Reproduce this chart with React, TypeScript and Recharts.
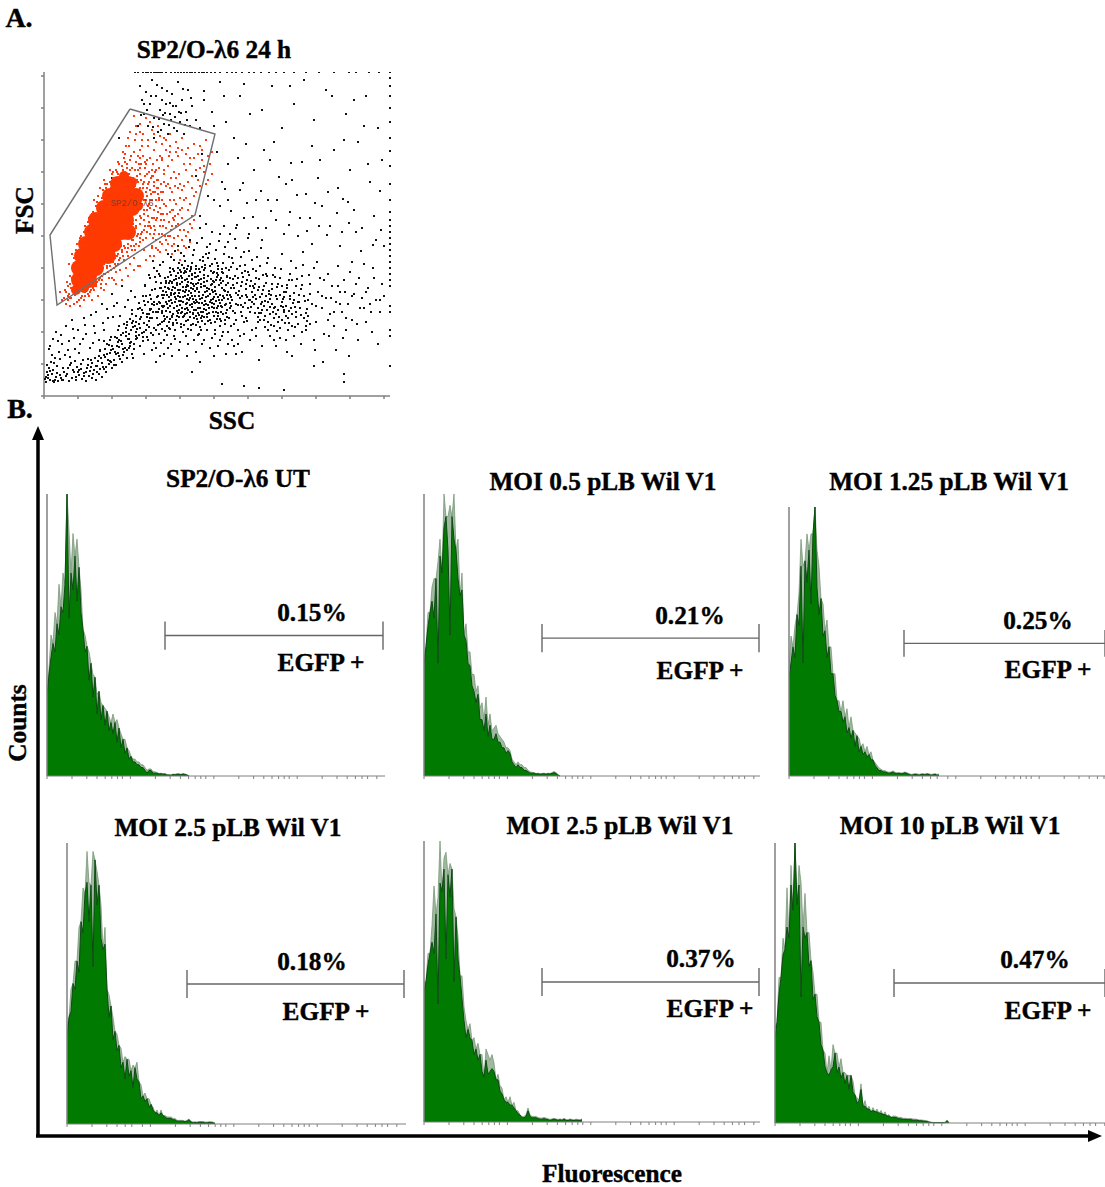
import React from "react";
import { ScatterChart, Scatter, AreaChart, Area, XAxis, YAxis, ReferenceLine } from "recharts";

// ---------- Panel A: SSC / FSC events (pairs: ssc, fsc) ----------
const lowerLeftEvents = [2,14,4,18,3,24,6,16,8,22,5,28,10,14,12,19,9,26,14,15,16,21,13,30,18,16,20,24,7,34,11,38,15,44,19,16,22,20,25,15,24,28,28,18,30,24,27,33,32,16,35,21,33,29,38,17,40,23,37,32,42,15,45,20,43,28,48,18,50,26,47,36,52,16,55,22,53,30,58,19,60,27,57,38,62,24,65,32,63,42,68,28,70,36,67,46,72,31,75,40,73,50,78,34,80,44,77,55,83,38,85,48,82,60,88,42,90,52,87,66,18,52,12,64,6,50,24,46,30,58,22,70,36,52,28,76,34,66,42,62,40,78,46,48,50,70,55,56,52,84,60,66,58,92,64,78,66,56,70,90,74,66,68,102,76,80,80,72,84,96,88,82,78,110,92,60,95,72,96,50,100,64,98,86,104,56,106,78,102,100,110,68,108,92,112,48,115,62,114,84,118,74,120,56,122,94,125,68,124,108,128,80,130,60,
1,17,3,31,8,41,5,47,10,33,16,37,14,55,21,41,9,57,26,39,31,47,17,61,25,55,35,43,29,67,39,57,44,37,49,53,41,71,56,45,61,39,51,63,47,81,59,73,65,51,71,59,63,87,75,49,79,63,69,79,83,71,73,93,85,57,89,75,81,89,93,67,97,79,91,99,99,59,103,71,95,93,87,105,107,87,101,111,109,61,113,99,117,53,119,89,111,119,123,79,121,65,127,101,129,73,126,115,133,85,131,57,135,95,137,69,
4,21,11,16,6,25,17,18,2,19,23,22,9,15,29,26,13,23,34,24,19,28,40,20,26,31,46,25,37,27,31,35,44,31,53,24,39,36,59,29,48,33,66,35,55,40,72,42,61,47,79,47,68,50,86,53,75,56,92,57,82,64,98,63,89,69];

const denseEvents = [106,86,108,78,110,94,112,84,114,100,116,72,118,90,120,80,122,104,124,88,125,74,127,96,129,82,130,102,132,76,133,90,135,86,136,106,137,72,139,94,140,80,141,100,143,88,144,76,145,96,146,84,147,108,148,92,149,72,150,86,151,100,152,80,153,94,154,74,155,104,156,88,157,78,158,98,159,84,160,110,161,72,162,92,163,82,164,100,165,88,166,76,167,96,168,106,169,84,170,92,171,74,172,102,173,88,174,80,175,96,176,70,177,90,178,108,179,82,180,98,181,76,182,92,183,86,184,104,185,78,113,92,119,98,126,84,131,94,134,100,138,84,142,92,146,98,150,78,154,88,158,80,162,86,166,94,170,80,174,90,178,96,128,106,136,112,144,114,152,112,160,114,168,112,176,116,123,70,131,66,139,64,147,66,155,62,163,66,171,62,179,64,187,70,
141,87,137,95,149,83,144,101,153,77,139,79,156,97,147,71,160,91,134,83,151,105,165,83,142,109,158,75,128,93,169,97,148,89,135,103,163,105,174,83,122,85,146,79,155,93,131,99,167,73,152,71,178,89,125,95,143,97,161,95,139,105,182,83,149,97,172,95,116,93,157,109,133,73,164,75,145,105,186,93,120,75,154,83,176,101,129,109,168,89,140,71,181,105,159,101,136,91,173,77,147,113,126,77,189,85,156,69,143,83,165,107,118,83,151,93,133,111,171,105,160,79,123,101,177,75,142,75,184,97,149,107,
155,81,138,88,162,99,130,88,146,91,170,88,127,103,152,86,141,104,176,93,135,79,166,102,158,93,148,100,183,79,123,92,144,86,172,84,132,97,160,87,152,96,139,99,179,100,115,87,163,79,149,82,134,106,187,90,155,100,128,79,168,93,143,93,174,99,120,90,157,84,137,83,181,91,147,103,164,91,126,90,153,108,141,82,170,99,161,104,133,80,177,84,150,94];

const bandEvents = [92,74,96,88,99,100,101,110,104,94,106,118,108,106,110,128,112,114,115,122,117,108,119,134,121,118,124,142,126,124,128,114,130,136,132,120,134,150,136,126,138,118,140,140,142,124,144,130,146,156,148,122,150,146,152,130,154,120,156,136,158,158,160,126,162,142,164,120,166,152,168,132,170,124,172,146,174,130,176,162,178,124,180,142,182,128,184,154,186,118,188,138,190,108,192,148,194,118,196,130,198,100,200,144,202,112,204,124,206,96,208,136,210,108,212,118,214,88,216,130,218,102,220,76,222,122,224,94,226,82,228,112,230,70,232,100,234,86,236,118,238,76,240,104,242,90,244,66,246,122,248,82,250,96,252,110,254,72,256,88,258,120,260,100,262,66,264,80,266,112,268,92,270,128,272,74,274,104,276,118,278,88,280,62,282,98,284,122,286,82,288,110,290,70,292,94,294,130,296,104,298,84,300,116,302,66,304,92,306,124,308,76,310,102,312,112,314,56,316,88,318,98,320,132,322,74,324,108,326,92,328,64,330,118,332,96,334,52,336,84,338,112,340,100,
178,60,184,64,190,72,196,60,202,78,208,66,214,74,220,90,226,60,232,82,238,94,244,78,250,60,186,88,192,92,198,80,204,88,210,92,216,76,222,100,228,92,234,74,240,84,246,100,252,84,258,64,264,96,270,56,142,60,150,56,158,52,166,48,174,50,182,42,190,50,198,44,215,36,232,50,248,40,270,30,300,22,127,52,135,46,143,40,156,34,170,40,148,24,178,12,200,10,215,8,240,6,300,14,305,40,320,88,
103,79,107,97,111,107,105,121,113,125,118,101,122,113,109,135,116,131,125,107,129,127,133,113,127,139,135,133,139,109,131,145,137,143,143,117,141,135,147,127,145,149,151,119,149,141,155,127,153,153,157,117,159,139,161,131,163,149,167,125,165,143,169,115,171,137,173,123,175,155,177,113,179,133,181,149,183,119,185,139,187,129,189,111,191,157,193,127,195,105,197,139,199,119,201,131,203,99,205,145,207,115,209,127,211,101,213,139,215,109,217,83,219,121,221,95,223,133,225,105,227,71,229,121,231,89,233,109,235,79,237,127,239,97,241,73,243,111,245,85,247,135,249,93,251,69,253,117,255,101,257,81,259,131,261,95,263,75,265,121,
191,83,197,91,203,75,209,99,215,83,221,69,227,101,233,65,239,89,245,73,251,89,257,107,263,87,194,66,200,74,206,84,212,68,218,94,224,74,230,88,236,68,242,80,248,70,254,94,260,78,266,72,272,90,278,100,284,76,290,84,296,92,302,78,308,100,188,56,194,52,200,62,206,56,212,60,218,50,224,66,230,56,236,58,242,56,112,34,120,42,128,40,136,54,144,52,152,44,160,56,168,58,176,56,184,52,192,42,100,42,108,46,116,40,124,48,
217,148,224,138,231,128,238,142,245,116,252,128,259,144,266,102,273,134,280,116,287,98,294,110,301,104,308,134,315,118,322,104,329,128,336,96,327,84,313,72,299,58,285,60,271,46,257,52,243,44,279,34,262,70,292,46,218,156,205,162,192,168,180,170,168,164,156,168];

const bandExtraEvents = [212,97,87,54,143,127,66,43,171,109,118,67,198,123,154,61,103,82,229,84,47,29,135,118,181,72,92,64,164,138,76,37,207,89,125,99,58,33,148,133,193,113,110,53,240,99,83,46,157,112,35,26,222,113,129,71,174,127,99,55,186,101,71,44,141,116,202,107,116,108,52,30,167,117,233,97,90,47,151,123,214,79,123,61,196,98,78,52,138,131,247,88,105,69,179,115,62,29,160,121,219,106,95,61,145,120,188,96,42,24,113,78,205,121,131,108,171,66,84,57,226,97,153,107,109,84,192,76,67,34,136,99,243,108,100,73,175,111,56,27,127,121,211,112,89,38,163,115,197,84,120,101,237,90,74,43,149,112,183,120,32,19,107,63,216,99,142,106,169,104,81,48,201,93,128,113,93,58,158,129,230,78,115,94,187,108,64,36,146,125,208,104,103,59,177,118,49,22,132,117,250,103,86,50,155,116,194,101,117,113,223,86,70,31,140,123,182,111,96,68,212,125,124,119,161,128,79,41,238,110,106,87,173,133,54,35,137,124,203,116,91,70,150,110,
189,133,126,67,218,86,157,66,101,91,234,112,144,67,176,77,69,47,209,110,118,85,191,120,85,62,152,119,240,86,112,66,167,111,60,41,199,89,130,116,225,102,96,77,183,101,148,117,74,54,205,96,121,109,255,94,161,110,88,73,215,117,138,114,179,123,105,75,194,91,51,38,228,107,143,111,172,116,114,71,246,97,82,68,156,124,202,101,125,113,189,117,63,52,220,110,134,123,166,130,99,83,211,83,147,129,77,61,184,113,236,101,119,105,160,118,92,80,197,110,130,125,252,79,173,119,110,91,208,94,140,128,56,46,223,120,154,113,180,106,102,66,242,104,126,128,169,123,86,77,201,125,137,120,73,58,187,99,214,106,148,121,106,101,262,83,163,108,94,87,231,119,122,115,192,103,83,74,178,127,217,92,144,110,116,120,198,114,67,59,258,111,152,127,105,82,174,121,226,89,131,103,88,86,206,110,170,114,141,125,75,70,248,116,121,77,185,126,100,95,159,135,221,80,134,128,60,55];

const upperRightEvents = [152,220,158,242,164,200,170,270,176,190,180,300,184,232,190,258,196,206,200,178,206,282,210,226,214,168,220,246,224,196,228,310,232,176,238,268,242,212,246,184,250,292,254,160,258,234,262,202,266,178,270,276,274,218,278,190,282,306,286,170,290,246,294,208,298,164,302,282,306,226,310,186,314,254,318,168,322,300,326,214,330,180,334,268,338,236,340,150,156,180,162,172,170,196,178,214,186,162,194,238,204,158,212,196,222,168,230,254,240,162,248,216,256,178,268,152,276,236,284,204,296,150,304,194,312,164,324,232,332,156,218,286,196,300,246,310,288,300,310,296,
173,244,181,207,187,185,193,171,199,213,203,193,209,179,217,205,227,185,235,219,245,171,253,201,263,165,271,193,283,161,293,183,305,173,317,145,329,151,337,166,182,274,202,252,226,236,268,250,300,256,320,270,160,305,200,312,260,316,184,196,233,196,247,233,275,170,299,197,336,205];

const upperClusterEvents = [96,310,98,296,100,282,102,304,104,270,106,292,108,316,110,278,112,300,114,264,116,286,118,308,120,272,122,292,124,262,126,282,128,302,130,268,132,290,134,314,136,274,138,296,140,262,142,284,144,306,146,270,148,290,152,276,156,268,160,296,168,284,176,314,94,270,100,292,110,258,118,296,127,276,135,284,143,276,75,258,68,218,
103,286,109,269,115,277,121,283,125,271,131,279,117,266,123,305,137,283,129,290,107,300,141,271,97,281,113,311,147,298,133,265,119,281,126,293,139,307];

const topRowEvents = [91,324,94,324,99,324,102,324,104,324,107,324,110,324,112,324,114,324,116,324,118,324,122,324,127,324,131,324,134,324,137,324,140,324,143,324,146,324,148,324,151,324,155,324,158,324,160,324,163,324,167,324,171,324,176,324,183,324,188,324,192,324,198,324,205,324,210,324,217,324,225,324,232,324,240,324,250,324,262,324,275,324,290,324,305,324,312,324,325,324,335,324,346,324];

const rightColumnEvents = [346,318,346,310,346,300,346,288,346,274,346,258,346,245,346,230,346,212,346,196,346,184,346,176,346,170,346,164,346,158,346,152,346,146,346,140,346,134,346,128,346,122,346,116,346,110,346,90,346,84,346,66,346,60,346,30];

const gatedEvents = [90,280,96,272,102,278,108,266,114,270,120,258,126,262,132,254,138,258,144,248,150,252,156,250,162,256,92,262,98,256,104,250,110,246,116,240,122,246,128,236,134,240,140,232,146,238,152,226,158,236,164,240,168,222,162,212,156,210,150,200,144,214,138,206,132,218,126,208,120,222,114,216,108,226,102,232,96,238,90,244,86,236,82,250,78,230,84,218,90,210,96,222,102,204,108,196,114,202,120,192,126,184,132,192,138,178,144,186,150,176,144,164,138,156,132,170,126,160,120,176,114,184,108,178,104,190,98,200,92,190,86,200,80,208,74,216,70,196,76,186,82,172,88,178,
88,228,92,234,94,226,97,232,99,240,101,228,103,236,105,224,107,218,109,232,111,224,113,208,115,228,117,212,119,204,100,214,104,212,106,206,110,210,112,196,94,214,92,204,96,208,98,192,100,186,102,196,104,180,106,188,110,170,112,176,116,170,118,162,122,168,124,152,128,150,130,158,134,146,136,136,140,166,142,148,146,154,148,168,122,190,126,196,128,204,130,176,134,182,136,198,116,188,118,196,
60,216,64,204,66,226,58,198,56,208,52,190,50,178,46,172,42,166,40,156,36,150,32,146,30,138,28,128,26,120,24,110,22,104,20,98,34,104,38,100,42,112,30,112,32,124,34,130,36,138,38,146,44,108,48,114,52,120,56,126,60,132,64,138,68,144,72,148,76,156,80,160,84,164,88,160,92,168,96,172,100,166,78,144,84,152,90,150,96,154,102,158,106,162,108,150,112,156,74,132,70,128,64,124,58,116,52,110,46,104,40,96,18,96,22,92,26,98,29,104,16,104,
23,114,25,132,27,108,31,101,33,118,35,96,37,106,39,112,41,104,43,122,45,100,47,118,49,108,51,126,53,114,55,122,57,112,59,128,61,122,63,130,65,134,67,126,69,136,71,132,73,140,75,136,77,150,79,140,81,148,83,144,85,158,87,150,89,156,91,146,93,160,95,150,97,162,99,156,101,170,103,164,105,174,107,168,109,158,111,166,113,178,115,162,117,176,119,170,121,160,123,182,125,174,127,166,129,186,131,180,
26,112,28,142,31,132,33,152,35,144,37,160,39,150,41,170,43,160,45,178,47,166,49,184,51,172,53,194,55,182,57,190,59,206,61,200,63,212,65,198,67,208,69,218,71,210,73,224,75,212,77,218,79,226,81,234,83,228,85,222,87,240,89,218,91,226,93,220,95,232,97,216,99,208,101,220,103,200,105,214,107,202,109,220,111,204,113,216,115,196,117,204,
118,236,124,230,130,224,136,212,142,226,148,220,154,216,160,224,166,232,152,204,146,192,140,196,134,208,128,186,124,212,120,214,114,208,110,186,106,196,100,176,96,180,92,176,88,186,84,188,80,180,78,170,72,168,86,170,92,152,98,164,104,170,110,162,116,154,122,146,128,142,134,160,140,150,146,172,108,148,114,146,76,126,80,136,84,140,88,146,72,124,68,118,62,112,56,118,50,106,44,116,38,108,
94,130,90,138,100,146,106,140,112,148,118,152,124,160,130,152,136,166,142,160,148,180,86,132,82,128,70,116,60,106,54,100,48,96,36,90,30,92,26,90,24,100,34,116,94,240,84,258,96,264,106,274,116,260,112,254,126,250,134,248,142,242,150,238,156,228,164,216,168,244,158,246,132,244,122,256,
58,120,71,138,44,102,92,170,63,128,80,150,37,98,86,166,52,112,97,178,74,142,30,104,66,130,89,172,47,106,103,186,55,116,78,146,35,108,94,162,69,134,110,178,41,100,83,158,60,122,100,182,27,98,76,138,50,110,106,170,65,118,88,156,33,94,112,190,72,130,96,158,24,96,57,108,84,148,119,182,
93,216,78,198,101,234,85,212,108,220,70,206,115,198,96,246,62,182,122,210,88,204,106,238,74,222,130,196,99,212,66,214,112,226,91,188,135,222,80,238,103,208,58,176,118,238,86,226,127,218,72,226,109,204,94,198,140,210,55,168,98,250,83,232,105,192,125,240,90,216,113,236,68,200,131,210,100,196,77,210,120,226,52,172,96,228,87,194,110,214,138,188,103,222,64,190,117,182,91,210,129,178,
21,106,28,118,25,102,33,136,30,126,36,158,33,142,40,164,38,128,44,174,42,150,48,182,46,158,50,196,54,200,61,212,58,190,68,222,62,208,74,234,69,224,79,244,75,232,85,250,81,242,91,256,86,264,92,270,99,262,104,256,110,262,118,252,126,244,138,246,146,232,154,242,160,230,142,198,136,186,148,208,128,170,134,172,122,156,116,144,110,140,102,136,96,130,90,126,84,120,78,116,72,112];

const gatedCoreEvents = [35,116,45,116,35,128,45,128,52,128,38,140,48,140,58,140,64,140,42,152,52,152,62,152,70,152,48,164,58,164,68,164,78,164,84,164,52,176,62,176,72,176,82,176,60,188,70,188,80,188,88,188,66,200,76,200,86,200,92,200,74,212,84,212];
const gatedCoreTopEvents = [80,220,88,214,94,190,84,168,40,108,32,106];

const gateVertices = [[86,287],[171,262],[151,181],[13,91],[6,161],[86,287]];
const sscTicks = [0,34,68,102,136,170,204,238,272,306,340];
const fscTicks = [0,32,64,96,128,160,192,224,256,288,320];

// ---------- Panel B: histogram counts per channel bin ----------
const utMain = [28,36,42,47,44,54,50,60,58,68,100,56,72,66,78,62,74,58,52,44,46,34,40,28,35,22,30,20,25,18,23,16,19,15,19,12,17,10,13,8,10,6,7,5,5,4,4,3,3,2,1,2,2,1,1,1,.7,.8,.6,.7,.3,.3,.2,.5,.4,.6,.6,.4,.7,.5,.3,0];
const utHaze = [30,38,50,47,58,54,68,60,72,68,100,87,72,86,78,84,74,66,52,50,46,44,40,36,35,29,30,26,25,24,23,21,19,22,19,20,17,15,13,13,10,9,7,6,6,5,5,4,4,3,2,2.5,2.5,1.5,1.5,1.2,.9,1,.8,.9,.5,.5,.4,.7,.6,.8,.8,.6,.9,.7,.5,0];
const moi05Main = [39,46,53,58,62,56,70,40,78,72,88,92,80,50,92,84,80,70,64,66,50,48,40,39,32,30,26,29,20,20,16,22,14,18,13,13,15,12,12,10,10,8,9,8,5,4,3,4,3,3,2,2,1.5,1,1,1,.7,.8,.6,.7,.8,.6,.8,.7,.9,1.2,.9,.3,0];
const moi05Haze = [42,46,58,58,67,70,70,76,84,72,100,92,92,96,92,100,80,84,64,72,50,54,44,44,36,36,30,32,24,26,20,28,18,22,16,17,18,15,14,13,12,10,10,9,6,5,4,5,4,4,3,3,2,1.5,1.3,1.2,.9,1,.8,.9,1,.8,1,.9,1.2,1.6,1.2,.5,0];
const moi125Main = [36,42,48,44,60,56,78,42,80,72,84,64,90,100,70,60,66,52,54,44,48,38,38,30,28,24,24,20,22,16,18,14,17,11,15,9,11,8,9,7,8,6,6,4,3,2,2,1.5,1.5,1.2,1,1.2,1.5,1,.8,1,.8,.9,1.2,.9,.6,.3,.4,.6,.5,.3,.5,.6,.4,.7,.5,.3,.4,.6,.3,.4];
const moi125Haze = [40,52,48,56,60,68,88,78,80,90,84,90,90,100,84,78,66,64,54,58,48,48,38,38,28,28,24,28,22,25,18,22,17,16,15,14,11,12,9,11,8,9,6,5,4,3,2.5,2,2,1.6,1.4,1.5,1.9,1.4,1.2,1.3,1.1,1.2,1.5,1.2,.9,.6,.7,.9,.8,.6,.8,.9,.7,1,.8,.6,.7,.9,.6,.7];
const moi25aMain = [30,38,40,50,48,58,54,72,68,82,86,72,85,56,94,78,85,66,62,64,48,38,42,30,33,26,28,20,22,16,23,17,19,13,20,16,15,9,10,8,9,6,7,5,4,4,3,4,3,2.5,2,2,2,1.5,1.5,1,1,1,1,.8,1,1.5,.7,.4,.5,.4,.6,.6,.6,.4,.4,.5,.5,.4,.2];
const moi25aHaze = [34,38,48,50,58,58,70,72,84,82,97,86,85,97,94,90,85,78,62,70,48,46,42,38,33,32,28,27,22,24,23,23,19,21,20,22,15,14,10,11,9,9,7,6,4,5,3,5,3,3,2.5,2.5,2.5,2,2,1.3,1.3,1.3,1.3,1,1.3,1.8,1,.7,.8,.7,.9,.9,.9,.7,.7,.8,.8,.7,.4];
const moi25bMain = [46,50,56,60,64,60,74,42,85,82,90,58,88,80,90,50,73,58,52,44,36,30,33,30,29,24,26,22,24,18,16,22,17,18,19,18,15,15,11,10,8,7,7,6,6,5,4,3,2.5,1.5,1.5,2,4,2,1.5,1.5,1.5,1.2,1,1,1.2,1,.8,.6,.8,1,.8,.6,.8,.6,1,.6,.5,.8,.6,.5,.7,.6,.5,.8];
const moi25bHaze = [50,50,60,60,70,84,74,80,100,82,94,96,88,92,90,76,73,66,52,52,41,36,33,35,29,30,26,28,24,24,16,26,24,22,24,21,15,17,13,12,8,9,7,9,6,7,4,4,2.5,2,2,2.5,5,2.5,2,2,2,1.6,1.4,1.4,1.6,1.4,1.2,.9,1.1,1.3,1.1,.9,1.1,.9,1.3,.9,.8,1.1,.9,.8,1,.9,.8,1.1];
const moi10Main = [30,36,46,52,60,62,70,66,85,76,100,78,85,45,70,66,68,56,58,44,46,38,36,28,26,20,18,17,19,20,25,18,20,16,18,14,17,12,17,11,10,7,8,12,6,6,5,5,4,4.5,4,4,3.5,3.5,3,3,2.5,2.5,2,2,2,1.8,1.5,1.5,1.3,1.3,1.2,1.2,1.2,1,1,1,.8,.8,.7,.6,.5,.3,.2,.1,.1,.1,.1,.1,.1,.1,.8,.1];
const moi10Haze = [34,36,52,52,66,62,84,66,92,76,100,78,92,86,70,82,68,68,58,54,46,46,36,36,26,25,18,24,19,28,25,25,20,23,18,18,17,17,17,15,10,9,8,14,6,8,5,6,4,5.5,4,5,3.5,4.5,3,4,2.5,3,2,2.5,2.5,2.2,2,2,1.7,1.7,1.6,1.6,1.6,1.4,1.4,1.3,1.1,1.1,1,.9,.8,.5,.3,.2,.2,.2,.2,.2,.2,.2,1,.2];

const panelTitles = ["SP2/O-λ6 UT","MOI 0.5 pLB Wil V1","MOI 1.25 pLB Wil V1","MOI 2.5 pLB Wil V1","MOI 2.5 pLB Wil V1","MOI 10 pLB Wil V1"];
const percentPositive = ["0.15%","0.21%","0.25%","0.18%","0.37%","0.47%"];
const mainSeries = [utMain,moi05Main,moi125Main,moi25aMain,moi25bMain,moi10Main];
const hazeSeries = [utHaze,moi05Haze,moi125Haze,moi25aHaze,moi25bHaze,moi10Haze];
const gateStart = [59,59,57.5,60,59,59.5];
const gateEnd = [168,167.5,158,168.5,167.5,165];
const gateLevel = [49.8,48.9,49.3,49.8,49.8,50];

// ---------- Layout (not data) ----------
const layout = [
  { x: 47, top: 494, base: 776, w: 338, tx: 238, ty: 478, px: 312, py: 612, ex: 321, ey: 662 },
  { x: 424, top: 494, base: 776, w: 336, tx: 603, ty: 481, px: 690, py: 615, ex: 700, ey: 670 },
  { x: 789, top: 507, base: 776, w: 316, tx: 949, ty: 481, px: 1038, py: 620, ex: 1048, ey: 669 },
  { x: 67, top: 843, base: 1124, w: 339, tx: 228, ty: 827, px: 312, py: 961, ex: 326, ey: 1011 },
  { x: 424, top: 841, base: 1122, w: 336, tx: 620, ty: 825, px: 701, py: 958, ex: 710, ey: 1008 },
  { x: 775, top: 843, base: 1123, w: 330, tx: 950, ty: 825, px: 1035, py: 959, ex: 1048, ey: 1010 },
];

const decadeOffsets = [0,12.5,19.9,25,29.1,32.4,35.2,37.7,39.8];
const channelTicks = [0,41.7,83.4,125.1].flatMap((d) => decadeOffsets.map((o) => d + o));

const pairs = (flat: number[]) => {
  const out: { x: number; y: number }[] = [];
  for (let i = 0; i + 1 < flat.length; i += 2) out.push({ x: flat[i], y: flat[i + 1] });
  return out;
};
const noLabel = () => "";
const AXIS = "#808080";
const SERIF = "'Liberation Serif', 'Times New Roman', serif";

const blackDot = (p: any) => <rect x={p.cx - 1} y={p.cy - 1} width={2} height={2} fill="#111" />;
const redDot = (p: any) => <rect x={p.cx - 1} y={p.cy - 1} width={2} height={2} fill="#ff3a10" />;
const coreDot = (p: any) => <circle cx={p.cx} cy={p.cy} r={8} fill="#ff3a00" />;
const coreTopDot = (p: any) => <circle cx={p.cx} cy={p.cy} r={5} fill="#ff3a00" />;
const noDot = () => <g />;

function DotPlot() {
  const black = [...lowerLeftEvents, ...denseEvents, ...bandEvents, ...bandExtraEvents, ...upperRightEvents, ...upperClusterEvents, ...topRowEvents, ...rightColumnEvents];
  return (
    <div style={{ position: "absolute", left: 38, top: 72 }}>
      <ScatterChart width={353} height={331} margin={{ top: 0, right: 1, bottom: 0, left: 0 }}>
        <XAxis type="number" dataKey="x" domain={[0, 346]} ticks={sscTicks} height={7} tickSize={3} tickFormatter={noLabel} stroke={AXIS} strokeWidth={1.5} />
        <YAxis type="number" dataKey="y" domain={[0, 324]} ticks={fscTicks} width={6} tickSize={3} tickFormatter={noLabel} stroke={AXIS} strokeWidth={1.5} />
        <Scatter data={pairs(black)} shape={blackDot} isAnimationActive={false} />
        <Scatter data={pairs(gatedCoreEvents)} shape={coreDot} isAnimationActive={false} />
        <Scatter data={pairs(gatedCoreTopEvents)} shape={coreTopDot} isAnimationActive={false} />
        <Scatter data={pairs(gatedEvents)} shape={redDot} isAnimationActive={false} />
        <Scatter data={gateVertices.map(([x, y]) => ({ x, y }))} shape={noDot} line={{ stroke: "#6f6f6f", strokeWidth: 1.4 }} isAnimationActive={false} />
      </ScatterChart>
    </div>
  );
}

function Histogram({ i }: { i: number }) {
  const l = layout[i];
  const h = l.base - l.top;
  const rows = mainSeries[i].map((v, b) => ({ b, main: v, haze: hazeSeries[i][b] ?? v }));
  const s = gateStart[i], e = gateEnd[i], g = gateLevel[i];
  return (
    <div style={{ position: "absolute", left: l.x - 1, top: l.top }}>
      <AreaChart width={l.w + 1} height={h + 6} data={rows} margin={{ top: 0, right: 0, bottom: 0, left: 0 }}>
        <XAxis type="number" dataKey="b" domain={[0, l.w / 2]} ticks={channelTicks.filter((t) => t <= l.w / 2)} height={6} tickSize={3} tickFormatter={noLabel} stroke={AXIS} allowDataOverflow />
        <YAxis type="number" domain={[0, 100]} width={1} tick={false} tickLine={false} stroke={AXIS} strokeWidth={1.5} />
        <Area type="linear" dataKey="haze" stroke="#6f8f6f" strokeWidth={0.7} fill="#a0b8a0" fillOpacity={1} dot={false} isAnimationActive={false} />
        <Area type="linear" dataKey="main" stroke="#0e4a14" strokeWidth={1} fill="#007a00" fillOpacity={1} dot={false} isAnimationActive={false} />
        <ReferenceLine segment={[{ x: s, y: g }, { x: e, y: g }]} stroke="#666" strokeWidth={1.4} />
        <ReferenceLine segment={[{ x: s, y: g - 5 }, { x: s, y: g + 5 }]} stroke="#666" strokeWidth={1.4} />
        <ReferenceLine segment={[{ x: e, y: g - 5 }, { x: e, y: g + 5 }]} stroke="#666" strokeWidth={1.4} />
      </AreaChart>
    </div>
  );
}

function Txt({ x, y, size = 25.3, children, rot }: any) {
  return (
    <text x={x} y={y} textAnchor="middle" dominantBaseline="central" fontFamily={SERIF} fontWeight="bold" fontSize={size} fill="#000" stroke="#000" strokeWidth={0.4} transform={rot ? `rotate(-90 ${x} ${y})` : undefined}>
      {children}
    </text>
  );
}

export default function App() {
  return (
    <div style={{ position: "absolute", left: 0, top: 0, width: 1105, height: 1187, overflow: "hidden", background: "#fff" }}>
      <DotPlot />
      {layout.map((_, i) => <Histogram key={i} i={i} />)}
      <svg width={1105} height={1187} style={{ position: "absolute", left: 0, top: 0, pointerEvents: "none" }}>
        <Txt x={19} y={17} size={28}>A.</Txt>
        <Txt x={20} y={408} size={28}>B.</Txt>
        <Txt x={214} y={49}>SP2/O-λ6 24 h</Txt>
        <Txt x={24} y={210} rot>FSC</Txt>
        <Txt x={232} y={420}>SSC</Txt>
        <text x={132} y={204} textAnchor="middle" dominantBaseline="central" fontFamily="'Liberation Mono', monospace" fontSize={9} fill="#8a3a20">SP2/O-λ6</text>
        {layout.map((l, i) => (
          <g key={i}>
            <Txt x={l.tx} y={l.ty}>{panelTitles[i]}</Txt>
            <Txt x={l.px} y={l.py}>{percentPositive[i]}</Txt>
            <Txt x={l.ex} y={l.ey}>EGFP +</Txt>
          </g>
        ))}
        <Txt x={17} y={723} rot>Counts</Txt>
        <Txt x={612} y={1173}>Fluorescence</Txt>
        <line x1={38} y1={1136} x2={38} y2={436} stroke="#000" strokeWidth={3.5} />
        <polygon points="38,426 32,440 44,440" fill="#000" />
        <line x1={36} y1={1136} x2={1092} y2={1136} stroke="#000" strokeWidth={3.5} />
        <polygon points="1102,1136 1088,1130 1088,1142" fill="#000" />
      </svg>
    </div>
  );
}
